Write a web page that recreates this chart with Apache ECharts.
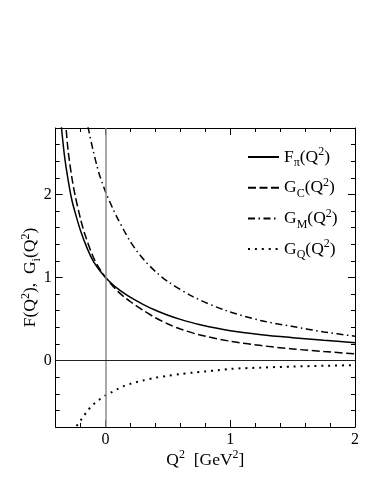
<!DOCTYPE html>
<html>
<head>
<meta charset="utf-8">
<script src="https://cdn.jsdelivr.net/npm/echarts@6/dist/echarts.min.js"></script>
<style>html,body{margin:0;padding:0;background:#fff;}#c{width:374px;height:484px;}</style>
</head>
<body>
<div id="c"></div>
<script>
// Q^2 values [GeV^2] and form factors
const qF  = [-0.36, -0.33, -0.3, -0.27, -0.24, -0.2, -0.15, -0.1, -0.05, 0, 0.05, 0.1, 0.15, 0.2, 0.3, 0.4, 0.5, 0.6, 0.75, 1.0, 1.25, 1.5, 1.75, 2.0];
const fPi = [2.9, 2.47, 2.17, 1.93, 1.76, 1.56, 1.36, 1.2, 1.09, 1.0, 0.925, 0.862, 0.808, 0.76, 0.677, 0.605, 0.546, 0.496, 0.435, 0.36, 0.312, 0.276, 0.244, 0.215];

const qC  = [-0.33, -0.318, -0.3, -0.27, -0.246, -0.2, -0.166, -0.1, -0.05, 0, 0.05, 0.1, 0.15, 0.2, 0.3, 0.4, 0.5, 0.6, 0.75, 1.0, 1.25, 1.5, 1.75, 2.0];
const gC  = [3.05, 2.82, 2.52, 2.2, 2.0, 1.7, 1.52, 1.25, 1.11, 1.0, 0.91, 0.83, 0.765, 0.708, 0.605, 0.515, 0.44, 0.38, 0.31, 0.233, 0.18, 0.14, 0.108, 0.082];

const qM  = [-0.16, -0.139, -0.1, -0.072, -0.05, 0, 0.061, 0.1, 0.15, 0.195, 0.25, 0.315, 0.409, 0.5, 0.7, 0.957, 1.25, 1.49, 1.75, 2.0];
const gM  = [3.0, 2.8, 2.53, 2.36, 2.24, 2.03, 1.82, 1.7, 1.56, 1.44, 1.32, 1.2, 1.06, 0.95, 0.77, 0.606, 0.48, 0.413, 0.345, 0.293];

const qQ  = [-0.26, -0.233, -0.2, -0.171, -0.139, -0.1, -0.05, 0, 0.05, 0.1, 0.15, 0.2, 0.25, 0.3, 0.4, 0.5, 0.6, 0.7, 0.8, 0.9, 1.0, 1.25, 1.5, 1.75, 2.0];
const gQ  = [-0.86, -0.79, -0.72, -0.659, -0.594, -0.53, -0.47, -0.42, -0.38, -0.34, -0.305, -0.28, -0.258, -0.24, -0.207, -0.183, -0.163, -0.145, -0.131, -0.117, -0.1, -0.085, -0.072, -0.063, -0.055];

const xTicksMajor = [0, 1, 2];
const yTicksMajor = [0, 1, 2];

const zip = (xs, ys) => xs.map((x, i) => [x, ys[i]]);

const FONT = 'Liberation Serif';
const rich = {
  n:   { fontFamily: FONT, fontSize: 17.5, lineHeight: 22, color: '#000' },
  sup: { fontFamily: FONT, fontSize: 12, lineHeight: 12, padding: [0, 0, 10, 0], color: '#000' },
  sub: { fontFamily: FONT, fontSize: 12, lineHeight: 12, padding: [12, 0, 0, 0], color: '#000' }
};
const legendText = {
  Fpi: '{n|F}{sub|π}{n|(Q}{sup|2}{n|)}',
  GC:  '{n|G}{sub|C}{n|(Q}{sup|2}{n|)}',
  GM:  '{n|G}{sub|M}{n|(Q}{sup|2}{n|)}',
  GQ:  '{n|G}{sub|Q}{n|(Q}{sup|2}{n|)}'
};

const XMIN = -0.4, XMAX = 2, YMIN = -0.8, YMAX = 2.8;
const isInt = v => Math.abs(v - Math.round(v)) < 1e-6;

function xAx(pos, major, showLine, showLabel) {
  const a = {
    type: 'value', position: pos, min: XMIN, max: XMAX, interval: 0.2,
    axisLine: { show: showLine, onZero: false, lineStyle: { color: '#000', width: 1 } },
    axisTick: { show: true, inside: true, length: major ? 7 : 4, lineStyle: { color: '#000', width: 1 } },
    axisLabel: { show: showLabel, margin: 5, fontFamily: FONT, fontSize: 16, color: '#000',
      formatter: v => isInt(v) ? String(Math.round(v)) : '' },
    splitLine: { show: false }
  };
  if (major) { a.axisTick.customValues = xTicksMajor; a.axisLabel.customValues = xTicksMajor; }
  return a;
}
function yAx(pos, major, showLine, showLabel) {
  const a = {
    type: 'value', position: pos, min: YMIN, max: YMAX, interval: 0.2,
    axisLine: { show: showLine, onZero: false, lineStyle: { color: '#000', width: 1 } },
    axisTick: { show: true, inside: true, length: major ? 7 : 4, lineStyle: { color: '#000', width: 1 } },
    axisLabel: { show: showLabel, margin: 4, fontFamily: FONT, fontSize: 16, color: '#000',
      formatter: v => isInt(v) ? String(Math.round(v)) : '' },
    splitLine: { show: false }
  };
  if (major) { a.axisTick.customValues = yTicksMajor; a.axisLabel.customValues = yTicksMajor; }
  return a;
}

const xAxes = [xAx('bottom', false, true, true), xAx('bottom', true, false, false), xAx('top', false, true, false), xAx('top', true, false, false)];
xAxes[0].name = '{n|Q}{sup|2}{n|  [GeV}{sup|2}{n|]}';
xAxes[0].nameLocation = 'middle';
xAxes[0].nameGap = 22;
xAxes[0].nameMoveOverlap = false;
xAxes[0].nameTextStyle = { rich };

const yAxes = [yAx('left', false, true, true), yAx('left', true, false, false), yAx('right', false, true, false), yAx('right', true, false, false)];
yAxes[0].name = '{n|F(Q}{sup|2}{n|),  G}{sub|i}{n|(Q}{sup|2}{n|)}';
yAxes[0].nameLocation = 'middle';
yAxes[0].nameGap = 14;
yAxes[0].nameRotate = 90;
yAxes[0].nameMoveOverlap = false;
yAxes[0].nameTextStyle = { rich };

const base = { type: 'line', symbol: 'none', showSymbol: false, smooth: 0.3, xAxisIndex: 0, yAxisIndex: 0, animation: false,
  itemStyle: { color: '#000' } };

const option = {
  animation: false,
  grid: { left: 55.7, right: 19, top: 128, bottom: 57, containLabel: false },
  legend: {
    orient: 'vertical', left: 247, top: 145, padding: 0, itemWidth: 31, itemHeight: 14, itemGap: 6.7,
    data: ['Fpi', 'GC', 'GM', 'GQ'],
    formatter: name => legendText[name],
    textStyle: { rich },
    itemStyle: { opacity: 0 },
    selectedMode: false
  },
  xAxis: xAxes,
  yAxis: yAxes,
  series: [
    Object.assign({}, base, { name: 'Fpi', data: zip(qF, fPi), lineStyle: { color: '#000', width: 1.5, type: 'solid' }, z: 3,
      markLine: { symbol: 'none', silent: true, label: { show: false }, animation: false,
        data: [
          { xAxis: 0, lineStyle: { color: '#8c8c8c', width: 1.5, type: 'solid' } },
          { yAxis: 0, lineStyle: { color: '#222', width: 1, type: 'solid' } }
        ] } }),
    Object.assign({}, base, { name: 'GC', data: zip(qC, gC), lineStyle: { color: '#000', width: 1.5, type: [8, 3.5] }, z: 3 }),
    Object.assign({}, base, { name: 'GM', data: zip(qM, gM), lineStyle: { color: '#000', width: 1.5, type: [7, 3.5, 1.5, 3.5] }, z: 3 }),
    Object.assign({}, base, { name: 'GQ', data: zip(qQ, gQ), lineStyle: { color: '#000', width: 2, type: [2, 4.9], cap: 'butt' }, z: 3 })
  ]
};

const chart = echarts.init(document.getElementById('c'), null, { renderer: 'canvas' });
chart.setOption(option);
</script>
</body>
</html>
